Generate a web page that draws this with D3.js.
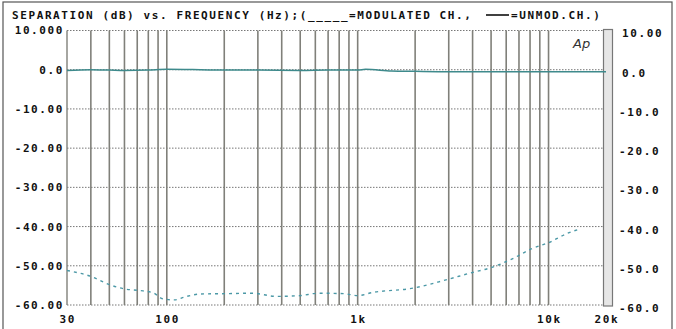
<!DOCTYPE html>
<html><head><meta charset="utf-8">
<script src="https://cdn.jsdelivr.net/npm/d3@7"></script>
<style>
html,body{margin:0;padding:0;background:#fff;}
svg{display:block;}
.lbl{font-family:"DejaVu Sans Mono",monospace;font-weight:bold;font-size:11px;letter-spacing:1.6px;fill:#111;}
</style></head>
<body>
<svg id="c" width="676" height="329"></svg>
<script>
const titleText = "SEPARATION (dB) vs. FREQUENCY (Hz);(_____=MODULATED CH.,";
const titleText2 = "=UNMOD.CH.)";
const yTicks = [10, 0, -10, -20, -30, -40, -50, -60];
const yLeftLabels = ["10.000", "0.0", "-10.00", "-20.00", "-30.00", "-40.00", "-50.00", "-60.00"];
const yRightLabels = ["10.00", "0.0", "-10.0", "-20.0", "-30.0", "-40.0", "-50.0", "-60.0"];
const xTickVals = [30, 100, 1000, 10000, 20000];
const xTickLabels = ["30", "100", "1k", "10k", "20k"];
const gridFreqs = [40,50,60,70,80,90,100,200,300,400,500,600,700,800,900,1000,2000,3000,4000,5000,6000,7000,8000,9000,10000];

const modFreq = [30, 40, 50, 60, 80, 100, 150, 200, 300, 500, 700, 1000, 1100, 1500, 2000, 3000, 5000, 10000, 20000];
const modDb   = [-0.2, 0.0, -0.1, -0.2, -0.1, 0.1, 0.0, -0.1, -0.1, -0.2, -0.1, -0.1, 0.1, -0.3, -0.4, -0.5, -0.5, -0.5, -0.5];

const unmodFreq = [30, 40, 50, 60, 72, 85, 95, 110, 125, 150, 205, 280, 375, 500, 620, 840, 1000, 1200, 1950, 2900, 4000, 4900, 6600, 8100, 10000, 12600, 14600];
const unmodDb   = [-51.2, -52.7, -54.8, -55.9, -56.3, -56.9, -58.4, -58.7, -57.9, -57.2, -57.1, -57.0, -57.8, -57.6, -57.0, -57.1, -57.6, -56.8, -55.7, -53.6, -51.7, -50.6, -48.0, -45.7, -44.1, -41.7, -40.6];

const svg = d3.select("#c");
const L = 67, R = 606, T = 30.5, B = 305;
const x = d3.scaleLog().domain([30, 20000]).range([L, R]);
const y = d3.scaleLinear().domain([-60, 10]).range([B, T]);

// page frame
svg.append("rect").attr("x",3).attr("y",2).attr("width",669).attr("height",330)
  .attr("fill","none").attr("stroke","#555").attr("stroke-width",1.2);

// horizontal dotted grid
svg.append("g").selectAll("line").data(yTicks).join("line")
  .attr("x1", L).attr("x2", R).attr("y1", d => y(d)).attr("y2", d => y(d))
  .attr("stroke", "#777").attr("stroke-width", 1).attr("stroke-dasharray", "1.5,1.5");

// vertical grid
svg.append("g").selectAll("line").data(gridFreqs).join("line")
  .attr("x1", d => x(d)).attr("x2", d => x(d)).attr("y1", T).attr("y2", B)
  .attr("stroke", "#80807a").attr("stroke-width", 1.6);

// left border
svg.append("line").attr("x1",L).attr("x2",L).attr("y1",T).attr("y2",B).attr("stroke","#80807a").attr("stroke-width",1.4);
// right band
svg.append("rect").attr("x", x(20000)-2.5).attr("y", T-1).attr("width", 9).attr("height", B-T+2)
  .attr("fill","#e6e6e6").attr("stroke","#777").attr("stroke-width",1.2);

// lines
const lineGen = d3.line().x(d => x(d[0])).y(d => y(d[1])).curve(d3.curveMonotoneX);
svg.append("path").datum(modFreq.map((f,i)=>[f, modDb[i]]))
  .attr("d", lineGen).attr("fill","none").attr("stroke","#3e8a8c").attr("stroke-width",1.5);
svg.append("path").datum(unmodFreq.map((f,i)=>[f, unmodDb[i]]))
  .attr("d", lineGen).attr("fill","none").attr("stroke","#4b98a6").attr("stroke-width",1.4)
  .attr("stroke-dasharray","3,4");

// Ap logo
svg.append("text").attr("x", 573).attr("y", 48).attr("font-family","DejaVu Sans, sans-serif")
  .attr("font-style","italic").attr("font-size","13px").attr("fill","#333").text("Ap");

// title
svg.append("text").attr("class","lbl").attr("x",12).attr("y",19).text(titleText);
svg.append("text").attr("class","lbl").attr("x",511).attr("y",19).text(titleText2);
svg.append("line").attr("x1",486).attr("x2",509).attr("y1",15).attr("y2",15).attr("stroke","#111").attr("stroke-width",1.6);

// left labels
svg.append("g").selectAll("text").data(yTicks).join("text").attr("class","lbl")
  .attr("x", 64).attr("y", d => y(d)).attr("dy","0.36em").attr("text-anchor","end")
  .text((d,i) => yLeftLabels[i]);
// right labels
svg.append("g").selectAll("text").data(yTicks).join("text").attr("class","lbl")
  .attr("x", d => d < 0 ? 619 : 622).attr("y", d => y(d) + 3).attr("dy","0.36em").attr("text-anchor","start")
  .text((d,i) => yRightLabels[i]);
// x labels
svg.append("g").selectAll("text").data(xTickVals).join("text").attr("class","lbl")
  .attr("x", d => x(d) + 0.8).attr("y", 323).attr("text-anchor","middle")
  .text((d,i) => xTickLabels[i]);
</script>
</body></html>
